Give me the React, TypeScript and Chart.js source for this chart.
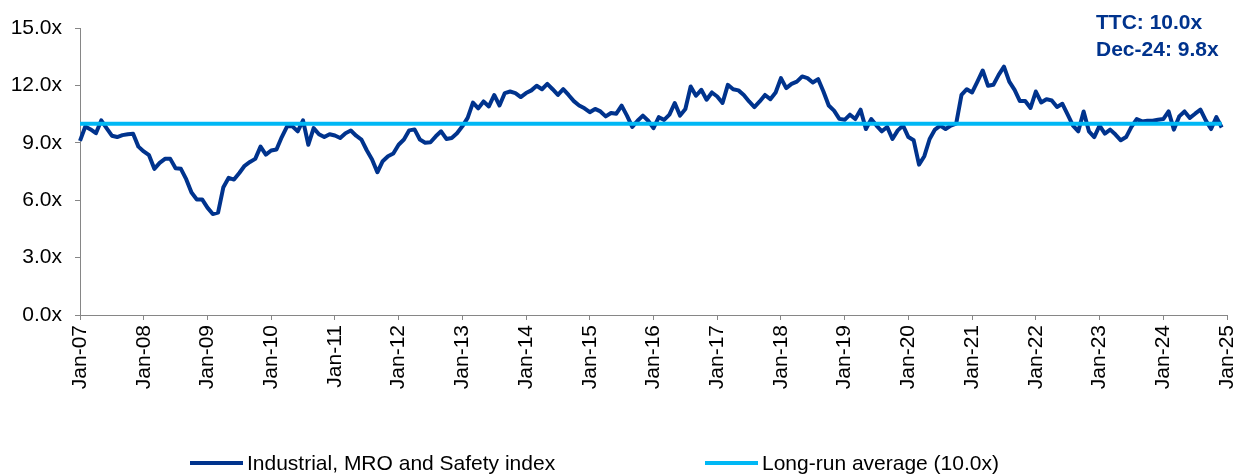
import React, { useEffect, useRef } from 'react';
import { Chart, registerables } from 'chart.js';

Chart.register(...registerables);

// ---- Data ----
const MONTH_NAMES = ['Jan', 'Feb', 'Mar', 'Apr', 'May', 'Jun', 'Jul', 'Aug', 'Sep', 'Oct', 'Nov', 'Dec'];
const YEARS = ['07', '08', '09', '10', '11', '12', '13', '14', '15', '16', '17', '18', '19', '20', '21', '22', '23', '24'];
const categories: string[] = [...YEARS.flatMap((y) => MONTH_NAMES.map((m) => `${m}-${y}`)), 'Jan-25'];

// Monthly forward P/E multiple, Jan-07 .. Dec-24
const indexValues: number[] = [
  // 2007
  9.1, 9.85, 9.7, 9.5, 10.17, 9.77, 9.37, 9.3, 9.4, 9.45, 9.47, 8.8,
  // 2008
  8.55, 8.35, 7.64, 7.95, 8.16, 8.16, 7.67, 7.64, 7.1, 6.4, 6.04, 6.04,
  // 2009
  5.61, 5.28, 5.35, 6.68, 7.17, 7.08, 7.42, 7.8, 8.0, 8.16, 8.8, 8.38,
  // 2010
  8.6, 8.65, 9.3, 9.86, 9.86, 9.6, 10.17, 8.9, 9.77, 9.45, 9.3, 9.45,
  // 2011
  9.38, 9.25, 9.5, 9.64, 9.37, 9.17, 8.61, 8.13, 7.46, 8.04, 8.3, 8.44,
  // 2012
  8.9, 9.17, 9.65, 9.7, 9.17, 9.0, 9.03, 9.34, 9.6, 9.2, 9.25, 9.5,
  // 2013
  9.86, 10.3, 11.1, 10.8, 11.16, 10.9, 11.5, 10.95, 11.6, 11.68, 11.6, 11.39,
  // 2014
  11.6, 11.74, 11.98, 11.8, 12.08, 11.8, 11.5, 11.8, 11.5, 11.18, 10.95, 10.8,
  // 2015
  10.6, 10.77, 10.64, 10.38, 10.56, 10.52, 10.94, 10.42, 9.83, 10.15, 10.42, 10.15,
  // 2016
  9.77, 10.34, 10.2, 10.47, 11.08, 10.42, 10.77, 11.94, 11.46, 11.77, 11.25, 11.63,
  // 2017
  11.42, 11.08, 12.03, 11.8, 11.74, 11.5, 11.16, 10.87, 11.16, 11.5, 11.28, 11.63,
  // 2018
  12.38, 11.86, 12.08, 12.2, 12.47, 12.38, 12.15, 12.33, 11.68, 10.95, 10.68, 10.25,
  // 2019
  10.2, 10.47, 10.24, 10.73, 9.72, 10.24, 9.9, 9.6, 9.83, 9.2, 9.65, 9.9,
  // 2020
  9.3, 9.13, 7.86, 8.3, 9.2, 9.69, 9.9, 9.72, 9.9, 10.0, 11.5, 11.8,
  // 2021
  11.63, 12.2, 12.78, 11.98, 12.03, 12.55, 12.98, 12.2, 11.77, 11.18, 11.18, 10.82,
  // 2022
  11.68, 11.11, 11.28, 11.21, 10.87, 11.04, 10.47, 9.9, 9.6, 10.64, 9.6, 9.3,
  // 2023
  9.9, 9.48, 9.69, 9.43, 9.13, 9.3, 9.83, 10.24, 10.12, 10.15, 10.15, 10.2,
  // 2024
  10.24, 10.64, 9.69, 10.38, 10.64, 10.3, 10.52, 10.73, 10.17, 9.72, 10.34, 9.8,
];

const longRunAverage = 10.0;
const averageValues: number[] = indexValues.map(() => longRunAverage);

const seriesLabels = ['Industrial, MRO and Safety index', 'Long-run average (10.0x)'];
const annotationLines = ['TTC: 10.0x', 'Dec-24: 9.8x'];

const yMin = 0;
const yMax = 15;
const yStep = 3;

// ---- Styles ----
const FONT_FAMILY = '"Liberation Sans", Arial, Helvetica, sans-serif';
const INDEX_COLOR = '#00338D';
const AVG_COLOR = '#00B8F5';
const AXIS_COLOR = '#868686';

const overlayPlugin = {
  id: 'overlay',
  afterDraw(chart: any) {
    const ctx = chart.ctx as CanvasRenderingContext2D;
    ctx.save();
    // top-right annotation
    ctx.font = `bold 21px ${FONT_FAMILY}`;
    ctx.fillStyle = INDEX_COLOR;
    ctx.textAlign = 'left';
    ctx.textBaseline = 'alphabetic';
    ctx.fillText(annotationLines[0], 1096, 29);
    ctx.fillText(annotationLines[1], 1096, 56);

    // legend
    const legendX = [190, 705];
    const legendY = 463;
    chart.data.datasets.forEach((ds: any, i: number) => {
      const x0 = legendX[i];
      ctx.strokeStyle = ds.borderColor;
      ctx.lineWidth = 4;
      ctx.lineCap = 'butt';
      ctx.beginPath();
      ctx.moveTo(x0, legendY);
      ctx.lineTo(x0 + 53, legendY);
      ctx.stroke();
      ctx.font = `21px ${FONT_FAMILY}`;
      ctx.fillStyle = '#000000';
      ctx.textBaseline = 'alphabetic';
      ctx.fillText(ds.label, x0 + 57, legendY + 7);
    });
    ctx.restore();
  },
};

export default function App() {
  const canvasRef = useRef<HTMLCanvasElement | null>(null);

  useEffect(() => {
    if (!canvasRef.current) return;
    const chart = new Chart(canvasRef.current, {
      type: 'line',
      data: {
        labels: categories,
        datasets: [
          {
            label: seriesLabels[0],
            data: indexValues,
            borderColor: INDEX_COLOR,
            backgroundColor: INDEX_COLOR,
            borderWidth: 4,
            pointRadius: 0,
            tension: 0,
            borderJoinStyle: 'round',
            fill: false,
            order: 2,
          },
          {
            label: seriesLabels[1],
            data: averageValues,
            borderColor: AVG_COLOR,
            backgroundColor: AVG_COLOR,
            borderWidth: 4,
            pointRadius: 0,
            tension: 0,
            fill: false,
            order: 1,
          },
        ],
      },
      options: {
        responsive: false,
        animation: false,
        devicePixelRatio: 1,
        layout: { padding: { left: 0, top: 28, right: 9, bottom: 0 } },
        plugins: {
          legend: { display: false },
          tooltip: { enabled: false },
          title: { display: false },
        },
        scales: {
          x: {
            type: 'category',
            offset: false,
            grid: {
              display: true,
              drawOnChartArea: false,
              drawTicks: true,
              tickLength: 5,
              color: AXIS_COLOR,
            },
            border: { display: true, color: AXIS_COLOR, width: 1 },
            ticks: {
              autoSkip: false,
              minRotation: 90,
              maxRotation: 90,
              padding: 5,
              color: '#000000',
              font: { size: 21, family: FONT_FAMILY },
              callback: (_v: any, idx: number) => {
                const l = categories[idx];
                return l && l.startsWith('Jan') ? l : null;
              },
            },
            afterFit: (s: any) => {
              s.height = 159;
              s.paddingLeft = 0;
              s.paddingRight = 0;
            },
          },
          y: {
            min: yMin,
            max: yMax,
            grid: {
              display: true,
              drawOnChartArea: false,
              drawTicks: true,
              tickLength: 5,
              color: AXIS_COLOR,
            },
            border: { display: true, color: AXIS_COLOR, width: 1 },
            ticks: {
              stepSize: yStep,
              padding: 13,
              color: '#000000',
              font: { size: 21, family: FONT_FAMILY },
              callback: (v: any) => Number(v).toFixed(1) + 'x',
            },
            afterFit: (s: any) => {
              s.width = 80;
            },
          },
        },
      },
      plugins: [overlayPlugin],
    });
    return () => chart.destroy();
  }, []);

  return (
    <div style={{ position: 'fixed', left: 0, top: 0, width: 1236, height: 474, background: '#fff' }}>
      <canvas ref={canvasRef} width={1236} height={474} style={{ display: 'block' }} />
    </div>
  );
}
